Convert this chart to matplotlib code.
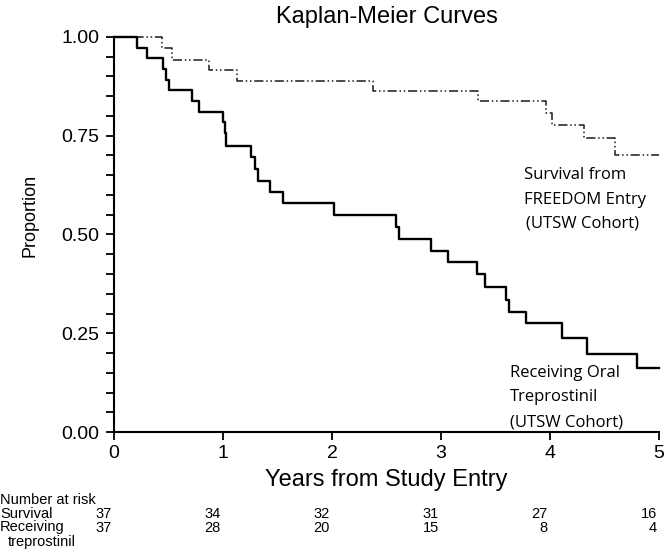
import matplotlib
matplotlib.use("Agg")
import matplotlib.pyplot as plt
import matplotlib.transforms as mtransforms

plt.rcParams['font.family'] = ['Liberation Sans', 'DejaVu Sans']

# Receiving oral treprostinil (solid) - step times and survival proportion
trep_time = [0, 0.21, 0.30, 0.45, 0.48, 0.50, 0.72, 0.78, 1.00, 1.02, 1.03,
             1.26, 1.29, 1.32, 1.43, 1.55, 2.02, 2.59, 2.61, 2.91, 3.06, 3.33,
             3.40, 3.60, 3.62, 3.78, 4.11, 4.34, 4.80, 5.0]
trep_surv = [1.0, 0.973, 0.946, 0.919, 0.892, 0.865, 0.838, 0.811, 0.784, 0.757, 0.725,
             0.697, 0.666, 0.635, 0.607, 0.579, 0.549, 0.520, 0.489, 0.458, 0.430, 0.400,
             0.368, 0.334, 0.305, 0.277, 0.237, 0.197, 0.161, 0.161]

# Survival from FREEDOM entry (dash-dot)
free_time = [0, 0.44, 0.53, 0.87, 1.13, 2.38, 3.34, 3.96, 4.02, 4.31, 4.60, 5.0]
free_surv = [1.0, 0.971, 0.943, 0.916, 0.889, 0.863, 0.838, 0.807, 0.777, 0.745, 0.701, 0.701]

risk_years = [0, 1, 2, 3, 4, 5]
risk_survival = [37, 34, 32, 31, 27, 16]
risk_trep = [37, 28, 20, 15, 8, 4]

fig = plt.figure(figsize=(6.66, 5.53), dpi=100)
ax = fig.add_axes([0.1712, 0.2188, 0.8183, 0.7143])

ax.step(free_time, free_surv, where='post', color='#1a1a1a', linewidth=1.1,
        dashes=(6, 1.8, 1, 1.8, 1, 1.8), clip_on=False)
ax.step(trep_time, trep_surv, where='post', color='black', linewidth=1.7,
        clip_on=False)

ax.set_xlim(0, 5)
ax.set_ylim(0, 1)
ax.spines['top'].set_visible(False)
ax.spines['right'].set_visible(False)
ax.spines['left'].set_linewidth(1.5)
ax.spines['bottom'].set_linewidth(1.5)

ax.set_xticks(risk_years)
ax.set_yticks([0, 0.25, 0.5, 0.75, 1.0])
ax.set_yticklabels(['0.00', '0.25', '0.50', '0.75', '1.00'])
ax.set_yticks([i * 0.05 for i in range(21)], minor=True)
ax.tick_params(axis='both', which='both', direction='out', width=1.3,
               length=5.5, labelsize=14)
ax.tick_params(axis='y', pad=5)
ax.tick_params(axis='x', pad=4)

ax.set_title("Kaplan-Meier Curves", fontsize=17, pad=10)
ax.set_xlabel("Years from Study Entry", fontsize=17, labelpad=5)
ax.set_ylabel("Proportion", fontsize=13)
ax.yaxis.set_label_coords(-0.139, 0.547)

# curve annotations
ann = dict(fontsize=12, family=['Open Sans', 'DejaVu Sans'], va='center', ha='left')
ax.text(3.76, 0.651, "Survival from", **ann)
ax.text(3.76, 0.587, "FREEDOM Entry", **ann)
ax.text(3.78, 0.529, "(UTSW Cohort)", **ann)
ax.text(3.63, 0.149, "Receiving Oral", **ann)
ax.text(3.63, 0.088, "Treprostinil", **ann)
ax.text(3.63, 0.025, "(UTSW Cohort)", **ann)

# number at risk table
tbl = dict(fontsize=10.5, family=['Liberation Sans Narrow', 'Liberation Sans'], va='center')
fig.text(0.0, 0.096, "Number at risk", ha='left', **tbl)
fig.text(0.0, 0.071, "Survival", ha='left', **tbl)
fig.text(0.0, 0.047, "Receiving", ha='left', **tbl)
fig.text(0.012, 0.019, "treprostinil", ha='left', **tbl)

trans = mtransforms.blended_transform_factory(ax.transData, fig.transFigure)
for yr, a, b in zip(risk_years, risk_survival, risk_trep):
    ax.text(yr - 0.02, 0.071, str(a), transform=trans, ha='right', clip_on=False, **tbl)
    ax.text(yr - 0.02, 0.046, str(b), transform=trans, ha='right', clip_on=False, **tbl)

fig.savefig("out.png", dpi=100)
